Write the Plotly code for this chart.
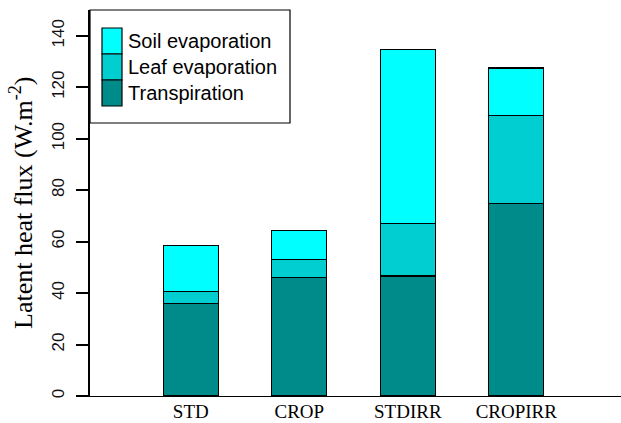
import plotly.graph_objects as go

categories = ["STD", "CROP", "STDIRR", "CROPIRR"]
transpiration = [35.8, 46.2, 46.6, 74.8]
leaf_evap = [4.9, 7.0, 20.3, 34.1]
soil_evap = [17.8, 11.1, 67.6, 18.6]

series = [
    ("Transpiration", transpiration, "#008B8B"),
    ("Leaf evaporation", leaf_evap, "#00CED1"),
    ("Soil evaporation", soil_evap, "#00FFFF"),
]

W, H = 621, 423
L, R, T, B = 90, 0, 10, 27

fig = go.Figure()
for name, vals, col in series:
    fig.add_trace(go.Bar(
        x=categories, y=vals, name=name, width=0.507,
        marker=dict(color=col, line=dict(color="black", width=1.2)),
        showlegend=False,
    ))

fig.update_layout(
    width=W, height=H, barmode="stack",
    margin=dict(l=L, r=R, t=T, b=B, pad=0),
    paper_bgcolor="white", plot_bgcolor="white",
    xaxis=dict(
        range=[-0.929, 3.965], showline=True, linecolor="black", linewidth=1.3,
        ticks="", showgrid=False, zeroline=False,
        tickfont=dict(family="Liberation Serif", size=19, color="black"),
        ticklabelstandoff=-2, automargin=False,
    ),
    yaxis=dict(
        range=[0, 150], showline=True, linecolor="black", linewidth=1.5,
        ticks="outside", ticklen=12, tickwidth=1.5, tickcolor="black",
        tickvals=[0, 20, 40, 60, 80, 100, 120, 140], tickangle=-90,
        showgrid=False, zeroline=False,
        tickfont=dict(family="Liberation Sans", size=17, color="#111"),
        ticklabelstandoff=5, automargin=False,
    ),
)

# Y axis title
fig.add_annotation(
    text="Latent heat flux (W.m<sup>-2</sup>)", textangle=-90,
    xref="paper", yref="paper", x=0, y=0.5, xanchor="center", yanchor="middle",
    xshift=21 - L, showarrow=False,
    font=dict(family="Liberation Serif", size=26, color="black"),
)

# Custom legend (paper coordinates)
pw, ph = W - L - R, H - T - B
def px2x(px):
    return (px - L) / pw
def py2y(py):
    return (H - B - py) / ph

fig.add_shape(type="rect", xref="paper", yref="paper",
              x0=px2x(90), x1=px2x(290), y0=py2y(123), y1=py2y(10),
              fillcolor="white", line=dict(color="black", width=1.2), layer="above")
legend_items = list(reversed(series))
tops = [28, 54, 80]
for (name, vals, col), top in zip(legend_items, tops):
    fig.add_shape(type="rect", xref="paper", yref="paper",
                  x0=px2x(102), x1=px2x(122), y0=py2y(top + 26), y1=py2y(top),
                  fillcolor=col, line=dict(color="black", width=1.2), layer="above")
    fig.add_annotation(text=name, xref="paper", yref="paper",
                       x=px2x(126), y=py2y(top + 13), xanchor="left", yanchor="middle",
                       showarrow=False,
                       font=dict(family="Liberation Sans", size=20, color="black"))

fig.write_html("out.html")
